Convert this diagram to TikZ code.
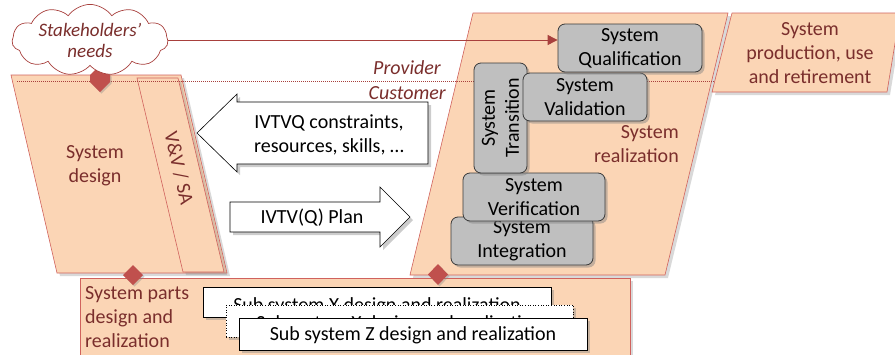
\documentclass[tikz,border=0pt]{standalone}
\usepackage{fontspec}
\setmainfont{Carlito}
\usetikzlibrary{shapes.symbols,shadows,arrows.meta}
\definecolor{peach}{HTML}{FBD5B5}
\definecolor{pborder}{HTML}{D0625D}
\definecolor{dred}{HTML}{7A2E2C}
\definecolor{dia}{HTML}{C0504D}
\definecolor{gbox}{HTML}{BFBFBF}
\definecolor{gborder}{HTML}{3A3A3A}
\definecolor{lred}{HTML}{A8403D}
\begin{document}
\begin{tikzpicture}[x=1pt,y=-1pt,
  every node/.style={font=\fontsize{20}{24}\selectfont, inner sep=0pt},
  panel/.style={fill=peach, draw=pborder, line width=0.6pt,
    drop shadow={shadow xshift=3pt, shadow yshift=-3pt, opacity=0.3}},
  graybox/.style={fill=gbox, draw=gborder, line width=0.8pt, rounded corners=7pt,
    drop shadow={shadow xshift=2.5pt, shadow yshift=-2.5pt, opacity=0.45}},
  subbox/.style={fill=white, draw=black, line width=0.6pt,
    drop shadow={shadow xshift=2.5pt, shadow yshift=-2.5pt, opacity=0.4}},
  blockarrow/.style={fill=white, draw=black, line width=0.6pt,
    drop shadow={shadow xshift=3pt, shadow yshift=-3pt, opacity=0.4}},
  diam/.style={fill=dia, draw=none,
    drop shadow={shadow xshift=1.5pt, shadow yshift=-1.5pt, opacity=0.35}},
  redtext/.style={text=dred},
  role/.style={text=dred, font=\fontsize{20}{24}\selectfont\itshape}
]
\useasboundingbox (0,0) rectangle (895,354);

% ---- panels ----
\path[panel] (11,75) -- (181,75) -- (227,273) -- (57,273) -- cycle;
\path[panel] (137,78) -- (178,78) -- (224,272) -- (183,272) -- cycle;
\path[panel] (473,13) -- (728,13) -- (665,275) -- (410,275) -- cycle;
\path[panel] (80,278) rectangle (630,362);

% provider / customer boundary
\draw[lred, line width=0.6pt, dash pattern=on 1pt off 1pt] (17,81) -- (716,81);

\path[panel] (732,13) -- (900,13) -- (887,92) -- (712,92) -- cycle;

% ---- panel texts ----
\node[redtext, align=center] (sysdesign) at (95,166) {System\\design};
\node[redtext, rotate=-76.9] (vvsa) at (179,168) {V\&V / SA};
\node[redtext, align=right, anchor=east] (sysreal) at (679,144) {System\\realization};
\node[redtext, align=center] (prod) at (810,53) {System\\production, use\\and retirement};
\node[redtext, align=left, anchor=west] (parts) at (85,317) {System parts\\design and\\realization};
\node[role, anchor=east] (provider) at (441,68) {Provider};
\node[role, anchor=east] (customer) at (446,93) {Customer};

% ---- gray process boxes ----
\node[graybox, minimum width=142pt, minimum height=48pt, align=center] (integ) at (522,241) {System\\Integration};
\node[graybox, minimum width=142pt, minimum height=48pt, align=center] (verif) at (534,197) {System\\Verification};
\node[graybox, minimum width=53pt, minimum height=110pt] (trans) at (500.5,118) {};
\node[rotate=90, align=center] (transtxt) at (trans.center) {System\\Transition};
\node[graybox, minimum width=124pt, minimum height=48pt, align=center] (valid) at (585,97) {System\\Validation};
\node[graybox, minimum width=144pt, minimum height=48pt, align=center] (qual) at (630,48) {System\\Qualification};

% ---- block arrows ----
\path[blockarrow] (197,133) -- (237,94) -- (237,102) -- (428,102) -- (428,164)
  -- (237,164) -- (237,172) -- cycle;
\node[align=center] (constraints) at (329,135) {IVTVQ constraints,\\resources, skills, \dots};
\path[blockarrow] (230,202) -- (380,202) -- (380,187) -- (410,217) -- (380,247)
  -- (380,232) -- (230,232) -- cycle;
\node (plan) at (312,218) {IVTV(Q) Plan};

% ---- sub systems ----
\node[subbox, minimum width=348pt, minimum height=30pt] (subx) at (377,302) {};
\node (subxtxt) at ([yshift=-4pt]subx.center) {Sub system X design and realization};
\node[subbox, dotted, minimum width=347pt, minimum height=32pt] (suby) at (399.5,321) {};
\node (subytxt) at ([yshift=-3.5pt]suby.center) {Sub system Y design and realization};
\node[subbox, minimum width=348pt, minimum height=32pt] (subz) at (413,334) {};
\node (subztxt) at ([yshift=-1pt]subz.center) {Sub system Z design and realization};

% ---- diamonds ----
\path[diam] (100,65) -- (110,75) -- (110,82) -- (100,92) -- (90,82) -- (90,75) -- cycle;
\path[diam] (133,265) -- (143,275) -- (133,285) -- (123,275) -- cycle;
\path[diam] (438,264) -- (448,274.5) -- (438,285) -- (428,274.5) -- cycle;

% ---- stakeholders' needs ----
\node[cloud, cloud puffs=11, cloud puff arc=110, aspect=2.8, draw=lred, fill=white,
  line width=0.7pt, minimum width=156pt, minimum height=52pt, align=center,
  text=dred, font=\fontsize{19}{21}\selectfont\itshape] (needs) at (90,40) {Stakeholders'\\needs};
\draw[lred, line width=0.9pt, -{Triangle[length=10pt,width=10pt]}]
  (needs.east) -- (needs.east -| qual.west);
\end{tikzpicture}
\end{document}
